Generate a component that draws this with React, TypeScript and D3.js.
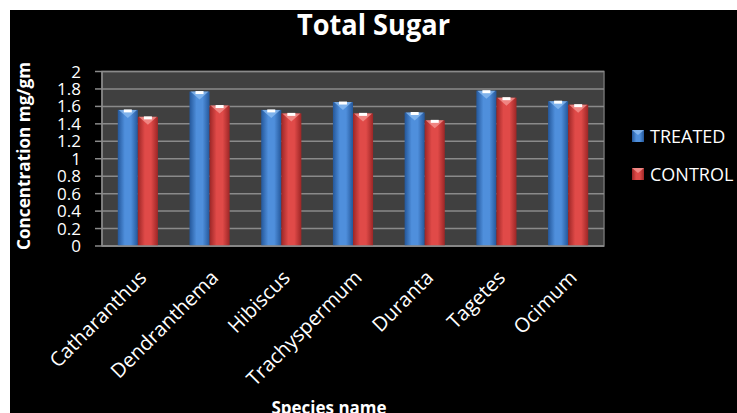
import React from "react";
import * as d3 from "d3";

// Total sugar content per species, treated vs control (mg/gm)
const species = [
  "Catharanthus",
  "Dendranthema",
  "Hibiscus",
  "Trachyspermum",
  "Duranta",
  "Tagetes",
  "Ocimum",
];
const treated = [1.56, 1.77, 1.56, 1.65, 1.53, 1.78, 1.66];
const control = [1.48, 1.61, 1.52, 1.52, 1.44, 1.70, 1.62];
const seriesNames = ["TREATED", "CONTROL"];
const yTicks = [0, 0.2, 0.4, 0.6, 0.8, 1, 1.2, 1.4, 1.6, 1.8, 2];

const W = 737;
const H = 413;
const plot = { left: 102, right: 604, top: 71.5, bottom: 246 };

const palette = [
  { edge: "#24579a", mid: "#4f8fdc", cap: "#8dbdf2" },
  { edge: "#9c2626", mid: "#e04a48", cap: "#f59a96" },
];

export default function App() {
  const x = d3
    .scaleBand<string>()
    .domain(species)
    .range([plot.left, plot.right])
    .paddingInner(0.44)
    .paddingOuter(0.22);
  const xs = d3
    .scaleBand<string>()
    .domain(seriesNames)
    .range([0, x.bandwidth()])
    .padding(0);
  const y = d3.scaleLinear().domain([0, 2]).range([plot.bottom, plot.top]);

  const seriesValues = [treated, control];
  const font = "'Open Sans', 'DejaVu Sans', sans-serif";

  return (
    <svg
      width={W}
      height={H}
      style={{ position: "absolute", left: 0, top: 0 }}
      fontFamily={font}
    >
      <defs>
        {palette.map((p, i) => (
          <linearGradient key={i} id={`barGrad${i}`} x1="0" x2="1" y1="0" y2="0">
            <stop offset="0" stopColor={p.edge} />
            <stop offset="0.35" stopColor={p.mid} />
            <stop offset="0.65" stopColor={p.mid} />
            <stop offset="1" stopColor={p.edge} />
          </linearGradient>
        ))}
      </defs>
      <rect x={0} y={0} width={W} height={H} fill="#ffffff" />
      <rect x={10} y={10} width={W - 10} height={H - 10} fill="#000000" />

      {/* title */}
      <text
        x={373.5}
        y={35}
        textAnchor="middle"
        fontSize={28}
        fontWeight="bold"
        fill="#ffffff"
        textLength={153}
        lengthAdjust="spacingAndGlyphs"
      >
        Total Sugar
      </text>

      {/* plot area */}
      <rect
        x={plot.left}
        y={plot.top}
        width={plot.right - plot.left}
        height={plot.bottom - plot.top}
        fill="#404040"
        stroke="#707070"
        strokeWidth={1.5}
      />
      {yTicks.map((t) => (
        <g key={t}>
          <line
            x1={plot.left}
            x2={plot.right}
            y1={y(t)}
            y2={y(t)}
            stroke="#8a8a8a"
            strokeWidth={1.5}
          />
          <line
            x1={95}
            x2={plot.left}
            y1={y(t)}
            y2={y(t)}
            stroke="#8a8a8a"
            strokeWidth={1.5}
          />
          <text
            x={81}
            y={y(t) + 6}
            textAnchor="end"
            fontSize={17}
            fill="#ffffff"
          >
            {String(t)}
          </text>
        </g>
      ))}
      <line
        x1={plot.left}
        x2={plot.left}
        y1={plot.top}
        y2={plot.bottom}
        stroke="#8a8a8a"
        strokeWidth={1.5}
      />

      {/* bars */}
      {species.map((s, ci) => (
        <g key={s}>
          {seriesValues.map((vals, si) => {
            const bx = (x(s) as number) + (xs(seriesNames[si]) as number);
            const bw = xs.bandwidth();
            const by = y(vals[ci]);
            const bh = plot.bottom - by;
            return (
              <g key={si}>
                <rect x={bx} y={by} width={bw} height={bh} fill={`url(#barGrad${si})`} />
                <path
                  d={`M${bx + 1},${by} L${bx + bw - 1},${by} L${bx + bw / 2},${by + 8} Z`}
                  fill={palette[si].cap}
                  opacity={0.75}
                />
                <rect
                  x={bx + bw / 2 - 4}
                  y={by - 0.5}
                  width={8}
                  height={3}
                  fill="#ffffff"
                />
              </g>
            );
          })}
        </g>
      ))}
      <line
        x1={plot.left}
        x2={plot.right}
        y1={plot.bottom}
        y2={plot.bottom}
        stroke="#8a8a8a"
        strokeWidth={1.5}
      />

      {/* category labels */}
      {species.map((s) => {
        const cx = (x(s) as number) + x.bandwidth() / 2;
        const ax = cx + 10;
        const ay = 279;
        return (
          <text
            key={s}
            x={ax}
            y={ay}
            transform={`rotate(-45 ${ax} ${ay})`}
            textAnchor="end"
            fontSize={20}
            fill="#ffffff"
          >
            {s}
          </text>
        );
      })}

      {/* axis titles */}
      <text
        x={329}
        y={414}
        textAnchor="middle"
        fontSize={17}
        fontWeight="bold"
        fill="#ffffff"
      >
        Species name
      </text>
      <text
        transform={`translate(30 156) rotate(-90)`}
        textAnchor="middle"
        fontSize={18}
        fontWeight="bold"
        fill="#ffffff"
        textLength={188}
        lengthAdjust="spacingAndGlyphs"
      >
        Concentration mg/gm
      </text>

      {/* legend */}
      {seriesNames.map((n, i) => {
        const ly = 130 + i * 38;
        return (
          <g key={n}>
            <rect x={632} y={ly} width={12} height={12} fill={`url(#barGrad${i})`} />
            <path
              d={`M632,${ly} L644,${ly} L638,${ly + 5} Z`}
              fill={palette[i].cap}
              opacity={0.8}
            />
            <text x={650} y={ly + 12.5} fontSize={18} fill="#ffffff">
              {n}
            </text>
          </g>
        );
      })}
    </svg>
  );
}
